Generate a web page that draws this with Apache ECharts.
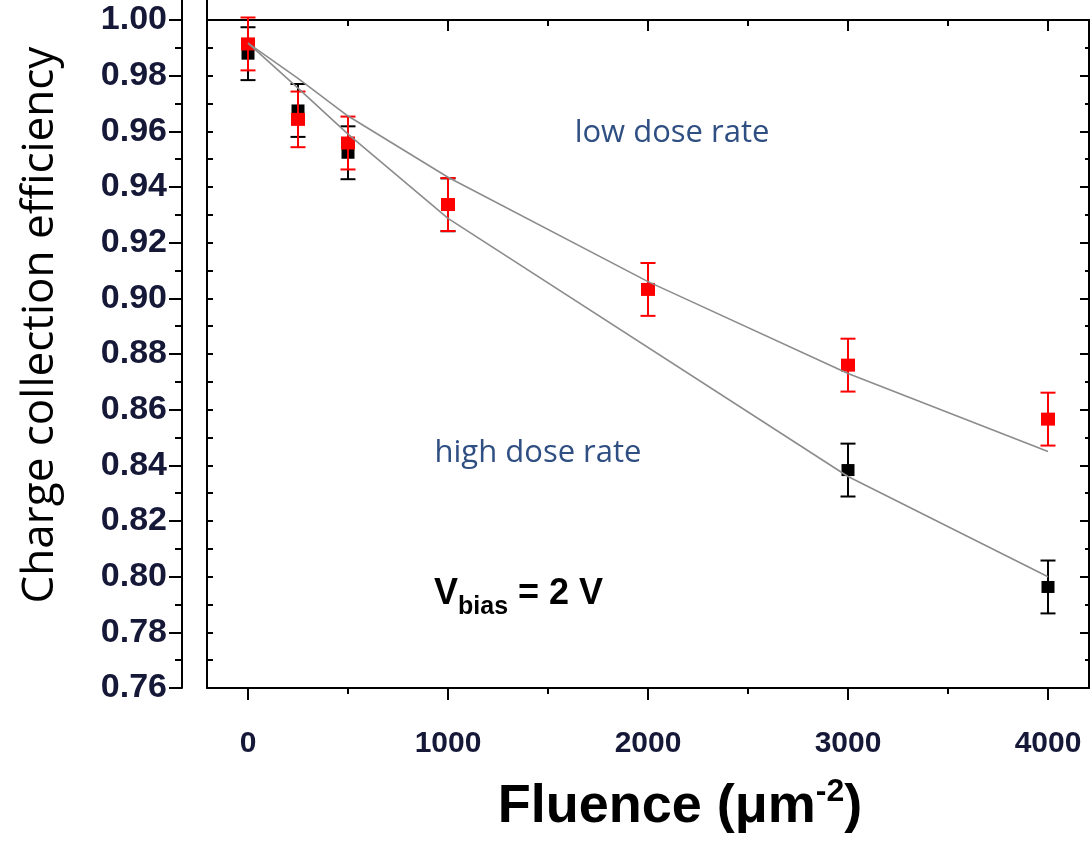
<!DOCTYPE html>
<html>
<head>
<meta charset="utf-8">
<script src="https://cdn.jsdelivr.net/npm/echarts@6/dist/echarts.min.js"></script>
<style>
html,body{margin:0;padding:0;background:#fff;}
#chart{width:1092px;height:841px;}
</style>
</head>
<body>
<div id="chart"></div>
<script>
// ---- data ----
const fluenceHigh = [0, 250, 500, 1000, 3000, 4000];
const cceHigh     = [0.9879, 0.9675, 0.9523, 0.9336, 0.8383, 0.7963];
const errHigh     = [0.0095, 0.0095, 0.0095, 0.0095, 0.0095, 0.0095];

const fluenceLow  = [0, 250, 500, 1000, 2000, 3000, 4000];
const cceLow      = [0.9914, 0.9643, 0.9558, 0.9337, 0.9032, 0.8760, 0.8566];
const errLow      = [0.0095, 0.0100, 0.0095, 0.0095, 0.0095, 0.0095, 0.0095];

const fitHighX = [0, 250, 500, 1000, 3000, 4000];
const fitHighY = [0.9917, 0.9755, 0.9590, 0.9287, 0.8360, 0.8000];
const fitLowX  = [0, 250, 500, 1000, 2000, 3000, 4000];
const fitLowY  = [0.9917, 0.9790, 0.9655, 0.9435, 0.9060, 0.8730, 0.8450];

const xMajorTicks = [0, 1000, 2000, 3000, 4000];
const xMinorTicks = [500, 1500, 2500, 3500];
const yLabels     = [0.76, 0.78, 0.80, 0.82, 0.84, 0.86, 0.88, 0.90, 0.92, 0.94, 0.96, 0.98, 1.00];
const yMinorTicks = [0.77, 0.79, 0.81, 0.83, 0.85, 0.87, 0.89, 0.91, 0.93, 0.95, 0.97, 0.99];

// ---- chart ----
const chart = echarts.init(document.getElementById('chart'), null, {renderer: 'canvas'});
const X_MIN = -205, X_MAX = 4205, Y_MIN = 0.76, Y_MAX = 1.00;
const labelColor = '#161838';
const lineOn = {show: true, onZero: false, lineStyle: {color: '#000', width: 2}};
const lineOff = {show: false, onZero: false};

function zip3(a, b, c) { return a.map((v, i) => [v, b[i], c[i]]); }
function zip2(a, b) { return a.map((v, i) => [v, b[i]]); }

function errRender(color) {
  return function (params, api) {
    const x = api.value(0), y = api.value(1), e = api.value(2);
    const t = api.coord([x, y + e]);
    const b = api.coord([x, y - e]);
    const hw = 7.5;
    const st = {stroke: color, lineWidth: 2};
    return {type: 'group', children: [
      {type: 'line', shape: {x1: t[0], y1: t[1], x2: b[0], y2: b[1]}, style: st},
      {type: 'line', shape: {x1: t[0] - hw, y1: t[1], x2: t[0] + hw, y2: t[1]}, style: st},
      {type: 'line', shape: {x1: b[0] - hw, y1: b[1], x2: b[0] + hw, y2: b[1]}, style: st}
    ]};
  };
}

function xAx(pos, ticks, len, inside, withLine, withLabel) {
  return {
    type: 'value', position: pos, min: X_MIN, max: X_MAX,
    axisLine: withLine ? lineOn : lineOff,
    splitLine: {show: false},
    axisTick: {show: true, customValues: ticks, length: len, inside: inside, lineStyle: {color: '#000', width: 2}},
    axisLabel: withLabel ? {
      show: true, customValues: xMajorTicks, margin: 41,
      formatter: v => String(v),
      fontFamily: 'Liberation Sans, Arial, sans-serif', fontWeight: 'bold', fontSize: 30, color: labelColor
    } : {show: false}
  };
}
function yAx(pos, offset, ticks, len, inside, withLine, withLabel) {
  return {
    type: 'value', position: pos, offset: offset, min: Y_MIN, max: Y_MAX,
    axisLine: withLine ? lineOn : lineOff,
    splitLine: {show: false},
    axisTick: {show: true, customValues: ticks, length: len, inside: inside, lineStyle: {color: '#000', width: 2}},
    axisLabel: withLabel ? {
      show: true, customValues: yLabels, margin: 15,
      formatter: v => v.toFixed(2),
      fontFamily: 'Liberation Sans, Arial, sans-serif', fontWeight: 'bold', fontSize: 34, color: labelColor
    } : {show: false}
  };
}

const option = {
  animation: false,
  backgroundColor: '#ffffff',
  grid: {left: 207, right: 3, top: 20, bottom: 153, containLabel: false},
  xAxis: [
    xAx('bottom', xMajorTicks, 12, false, true, true),
    xAx('bottom', xMinorTicks, 6, false, false, false),
    xAx('top', xMajorTicks, 11, true, true, false),
    xAx('top', xMinorTicks, 6, true, false, false)
  ],
  yAxis: [
    yAx('left', 0, yLabels.concat(yMinorTicks), 6, true, true, false),
    yAx('right', 0, yLabels, 9, true, true, false),
    yAx('right', 0, yMinorTicks, 4, true, false, false),
    yAx('left', 25, yLabels, 13, false, true, true),
    yAx('left', 25, yMinorTicks, 7, false, false, false)
  ],
  series: [
    {type: 'custom', name: 'high err', xAxisIndex: 0, yAxisIndex: 0, renderItem: errRender('#000000'),
     data: zip3(fluenceHigh, cceHigh, errHigh), encode: {x: 0, y: 1}, z: 2, clip: false},
    {type: 'scatter', name: 'high dose rate', xAxisIndex: 0, yAxisIndex: 0, symbol: 'rect', symbolSize: [13, 12],
     itemStyle: {color: '#000000', opacity: 1}, data: zip2(fluenceHigh, cceHigh), z: 3},
    {type: 'custom', name: 'low err', xAxisIndex: 0, yAxisIndex: 0, renderItem: errRender('#ff0000'),
     data: zip3(fluenceLow, cceLow, errLow), encode: {x: 0, y: 1}, z: 4, clip: false},
    {type: 'scatter', name: 'low dose rate', xAxisIndex: 0, yAxisIndex: 0, symbol: 'rect', symbolSize: [14, 13],
     itemStyle: {color: '#ff0000', opacity: 1}, data: zip2(fluenceLow, cceLow), z: 5},
    {type: 'line', name: 'fit high', xAxisIndex: 0, yAxisIndex: 0, data: zip2(fitHighX, fitHighY), showSymbol: false,
     symbol: 'none', lineStyle: {color: '#8c8c8c', width: 1.6}, z: 6},
    {type: 'line', name: 'fit low', xAxisIndex: 0, yAxisIndex: 0, data: zip2(fitLowX, fitLowY), showSymbol: false,
     symbol: 'none', lineStyle: {color: '#8c8c8c', width: 1.6}, z: 6}
  ],
  graphic: [
    {type: 'line', shape: {x1: 182, y1: 0, x2: 182, y2: 21}, style: {stroke: '#000', lineWidth: 2}, z: 10},
    {type: 'line', shape: {x1: 207, y1: 0, x2: 207, y2: 21}, style: {stroke: '#000', lineWidth: 2}, z: 10},
    {type: 'text', x: 40, y: 325, rotation: Math.PI / 2,
     style: {text: 'Charge collection efficiency', fontFamily: 'Open Sans, sans-serif', fontSize: 44,
       fill: '#000', align: 'center', verticalAlign: 'middle'}},
    {type: 'text', x: 672, y: 133,
     style: {text: 'low dose rate', fontFamily: 'Open Sans, sans-serif', fontSize: 31,
       fill: '#2f4f82', align: 'center', verticalAlign: 'middle'}},
    {type: 'text', x: 538, y: 453,
     style: {text: 'high dose rate', fontFamily: 'Open Sans, sans-serif', fontSize: 31,
       fill: '#2f4f82', align: 'center', verticalAlign: 'middle'}},
    {type: 'text', x: 434, y: 620,
     style: {text: '{v|V}{s|bias}{v| = 2 V}', align: 'left', verticalAlign: 'bottom',
       rich: {
         v: {fontFamily: 'Liberation Sans, Arial, sans-serif', fontWeight: 'bold', fontSize: 36, lineHeight: 36,
             padding: [0, 0, 8, 0], verticalAlign: 'bottom', fill: '#000'},
         s: {fontFamily: 'Liberation Sans, Arial, sans-serif', fontWeight: 'bold', fontSize: 25, lineHeight: 25,
             verticalAlign: 'bottom', fill: '#000'}
       }}},
    {type: 'text', x: 680, y: 834,
     style: {text: '{a|Fluence (μm}{b|-2}{a|)}', align: 'center', verticalAlign: 'bottom',
       rich: {
         a: {fontFamily: 'Liberation Sans, Arial, sans-serif', fontWeight: 'bold', fontSize: 54, lineHeight: 58,
             verticalAlign: 'bottom', fill: '#000'},
         b: {fontFamily: 'Liberation Sans, Arial, sans-serif', fontWeight: 'bold', fontSize: 32, lineHeight: 32,
             padding: [0, 0, 26, 0], verticalAlign: 'bottom', fill: '#000'}
       }}}
  ]
};
chart.setOption(option);
</script>
</body>
</html>
